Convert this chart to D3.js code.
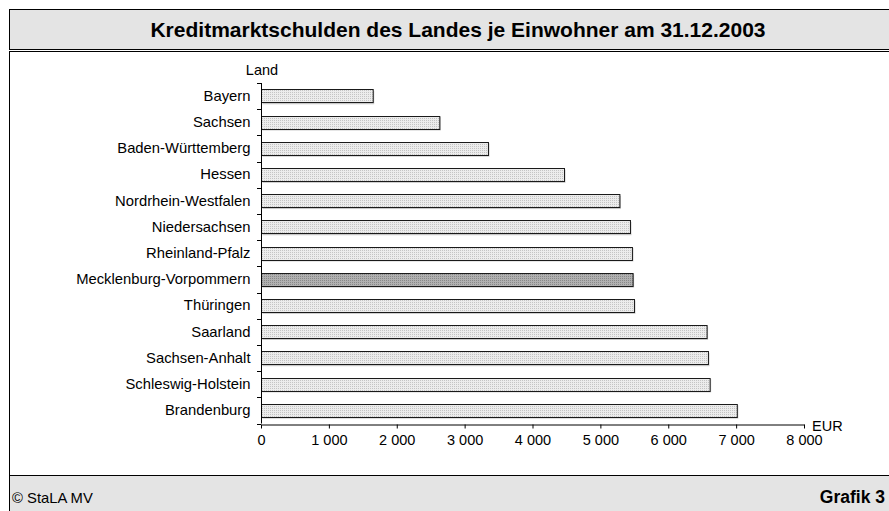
<!DOCTYPE html>
<html>
<head>
<meta charset="utf-8">
<script src="https://cdn.jsdelivr.net/npm/d3@7"></script>
<style>
  body { margin: 0; background: #fff; }
  text { font-family: "Liberation Sans", Arial, sans-serif; fill: #000; }
</style>
</head>
<body>
<svg id="chart" width="889" height="511"></svg>
<script>
// Data (EUR je Einwohner)
const laender = ["Bayern", "Sachsen", "Baden-Württemberg", "Hessen", "Nordrhein-Westfalen",
  "Niedersachsen", "Rheinland-Pfalz", "Mecklenburg-Vorpommern", "Thüringen", "Saarland",
  "Sachsen-Anhalt", "Schleswig-Holstein", "Brandenburg"];
const schulden = [1646, 2627, 3344, 4464, 5280, 5436, 5465, 5475, 5495, 6565, 6585, 6610, 7010];
const highlight = "Mecklenburg-Vorpommern";
const xTicks = [0, 1000, 2000, 3000, 4000, 5000, 6000, 7000, 8000];

const titleText = "Kreditmarktschulden des Landes je Einwohner am 31.12.2003";
const sourceText = "© StaLA MV";
const grafikText = "Grafik 3";

const svg = d3.select("#chart");

// Patterns for the dotted bar fills
const defs = svg.append("defs");
function dotPattern(id, bg, dot) {
    const p = defs.append("pattern")
        .attr("id", id)
        .attr("width", 2).attr("height", 2)
        .attr("patternUnits", "userSpaceOnUse");
    p.append("rect").attr("width", 2).attr("height", 2).attr("fill", bg);
    p.append("rect").attr("width", 1).attr("height", 1).attr("fill", dot);
}
dotPattern("dotsLight", "#ececec", "#c4c4c4");
dotPattern("dotsDark", "#b0b0b0", "#888888");

// Frame: header, chart area, footer
svg.append("rect")
    .attr("x", 9.5).attr("y", 9.5).attr("width", 890).attr("height", 40)
    .attr("fill", "#e4e4e4").attr("stroke", "#000");
svg.append("rect")
    .attr("x", 9.5).attr("y", 51.5).attr("width", 890).attr("height", 424)
    .attr("fill", "#fff").attr("stroke", "#000");
svg.append("rect")
    .attr("x", 9.5).attr("y", 475.5).attr("width", 890).attr("height", 50)
    .attr("fill", "#e4e4e4").attr("stroke", "#000");

svg.append("text")
    .attr("x", 458).attr("y", 37)
    .attr("text-anchor", "middle")
    .attr("font-size", 21).attr("font-weight", "bold")
    .text(titleText);

svg.append("text")
    .attr("x", 12).attr("y", 503)
    .attr("font-size", 14.8)
    .text(sourceText);

svg.append("text")
    .attr("x", 885).attr("y", 503)
    .attr("text-anchor", "end")
    .attr("font-size", 17.5).attr("font-weight", "bold")
    .text(grafikText);

// Scales
const x = d3.scaleLinear().domain([0, 8000]).range([261, 804]);
const y = d3.scaleBand().domain(laender).range([83, 423.5])
    .paddingInner(0.49).paddingOuter(0.245);

const fmt = d3.formatLocale({ decimal: ",", thousands: " ", grouping: [3], currency: ["", " €"] }).format(",");

// Bars
const data = laender.map((l, i) => ({ land: l, wert: schulden[i] }));

svg.append("g").selectAll("rect")
    .data(data)
    .join("rect")
    .attr("x", x(0) + 1.5)
    .attr("y", d => y(d.land) + 1.5)
    .attr("width", d => x(d.wert) - x(0))
    .attr("height", y.bandwidth())
    .attr("fill", "#c8c8c8");

svg.append("g").selectAll("rect")
    .data(data)
    .join("rect")
    .attr("x", x(0) + 0.5)
    .attr("y", d => Math.round(y(d.land)) + 0.5)
    .attr("width", d => x(d.wert) - x(0))
    .attr("height", Math.round(y.bandwidth()))
    .attr("fill", d => d.land === highlight ? "url(#dotsDark)" : "url(#dotsLight)")
    .attr("stroke", "#1a1a1a")
    .attr("stroke-width", 1);

// X axis
const xAxis = svg.append("g")
    .attr("transform", `translate(0, ${Math.round(y.range()[1]) + 0.5})`)
    .call(d3.axisBottom(x).tickValues(xTicks).tickFormat(fmt).tickSize(4).tickSizeOuter(0).tickPadding(6));
xAxis.select(".domain").attr("stroke", "#000");
xAxis.selectAll("text").attr("font-size", 14.5).attr("font-family", "Liberation Sans, Arial, sans-serif");

svg.append("text")
    .attr("x", 812).attr("y", 431)
    .attr("font-size", 14.5)
    .text("EUR");

// Y axis: category labels, ticks between categories
const yAxis = svg.append("g")
    .attr("transform", `translate(${x(0) + 0.5}, 0)`)
    .call(d3.axisLeft(y).tickSize(0).tickPadding(11));
yAxis.select(".domain").remove();
yAxis.selectAll("text").attr("font-size", 14.8).attr("font-family", "Liberation Sans, Arial, sans-serif");

const step = y.step();
const yEdges = d3.range(laender.length + 1).map(i => y.range()[0] + i * step);
svg.append("line")
    .attr("x1", x(0) + 0.5).attr("x2", x(0) + 0.5)
    .attr("y1", y.range()[0]).attr("y2", y.range()[1])
    .attr("stroke", "#000");
svg.append("g").selectAll("line")
    .data(yEdges)
    .join("line")
    .attr("x1", x(0) - 4).attr("x2", x(0))
    .attr("y1", d => Math.round(d) + 0.5).attr("y2", d => Math.round(d) + 0.5)
    .attr("stroke", "#000");

svg.append("text")
    .attr("x", 262).attr("y", 75)
    .attr("text-anchor", "middle")
    .attr("font-size", 14.5)
    .text("Land");
</script>
</body>
</html>
